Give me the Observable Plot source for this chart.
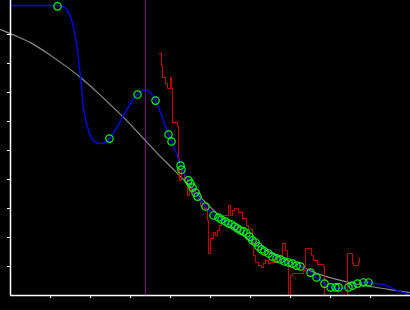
<!DOCTYPE html>
<html>
<head>
<meta charset="utf-8">
<script src="https://cdn.jsdelivr.net/npm/d3@7"></script>
<script src="https://cdn.jsdelivr.net/npm/@observablehq/plot@0.6"></script>
<style>
  html, body { margin: 0; padding: 0; background: #000; }
</style>
</head>
<body>
<div id="chart"></div>
<script>
// Tick positions
const xTicks = [1, 2, 3, 4, 5, 6, 7, 8, 9];
const yTicks = [1, 2, 3, 4, 5, 6, 7, 8, 9];
const markerX = 3.375;

// Gray smooth curve
const grayX = [-0.25, 0, 0.5, 1.0, 1.75, 2.25, 2.825, 3.375, 3.75, 4.0, 4.325, 4.825, 5.325, 5.75, 6.175, 6.75, 7.25, 7.75, 8.25, 9.0, 10];
const grayY = [9.17, 9.03, 8.72, 8.28, 7.52, 6.90, 6.14, 5.34, 4.79, 4.45, 4.0, 3.28, 2.62, 2.14, 1.72, 1.31, 1.0, 0.72, 0.52, 0.31, 0.10];

// Blue fitted curve
const blueX = [0, 1.175, 1.3, 1.425, 1.55, 1.675, 1.75, 1.825, 1.95, 2.075, 2.25, 2.375, 2.475, 2.675, 2.825, 3.0, 3.175, 3.3, 3.375, 3.475, 3.625, 3.75, 3.95, 4.025, 4.15, 4.25, 4.45, 4.625, 4.875, 5.075, 5.375, 5.75, 6.125, 6.45, 6.75, 7.05, 7.25, 7.5, 7.65, 7.85, 8.0, 8.2, 8.45, 8.675, 8.95, 9.125, 9.325, 9.5, 9.675, 9.875, 10];
const blueY = [10.0, 10.0, 9.97, 9.83, 9.38, 8.45, 7.52, 6.48, 5.69, 5.34, 5.24, 5.28, 5.41, 5.83, 6.21, 6.62, 6.93, 7.07, 7.10, 7.03, 6.72, 6.31, 5.55, 5.31, 4.90, 4.48, 3.97, 3.55, 3.07, 2.76, 2.55, 2.24, 1.83, 1.45, 1.24, 1.10, 1.0, 0.79, 0.62, 0.41, 0.28, 0.24, 0.28, 0.41, 0.45, 0.41, 0.38, 0.28, 0.17, 0.07, 0];

// Green observation circles
const ptX = [1.175, 2.475, 3.175, 3.625, 3.95, 4.025, 4.25, 4.275, 4.45, 4.5, 4.55, 4.625, 4.675, 4.875, 5.075, 5.2, 5.275, 5.375, 5.45, 5.525, 5.6, 5.675, 5.75, 5.825, 5.9, 5.975, 6.05, 6.125, 6.2, 6.275, 6.35, 6.45, 6.55, 6.65, 6.75, 6.85, 6.95, 7.05, 7.15, 7.25, 7.5, 7.65, 7.85, 8.0, 8.125, 8.2, 8.45, 8.55, 8.675, 8.825, 8.95];
const ptY = [9.97, 5.41, 6.93, 6.72, 5.55, 5.31, 4.48, 4.34, 3.97, 3.86, 3.72, 3.55, 3.41, 3.07, 2.76, 2.69, 2.62, 2.55, 2.48, 2.45, 2.38, 2.31, 2.24, 2.21, 2.14, 2.03, 1.90, 1.83, 1.69, 1.59, 1.52, 1.45, 1.34, 1.28, 1.24, 1.17, 1.14, 1.10, 1.03, 1.0, 0.79, 0.62, 0.41, 0.28, 0.28, 0.28, 0.28, 0.34, 0.41, 0.45, 0.45];

// Red noisy step series
const redX = [3.725, 3.775, 3.8, 3.875, 3.925, 4.0, 4.025, 4.05, 4.175, 4.2, 4.225, 4.275, 4.35, 4.425, 4.475, 4.525, 4.575, 4.65, 4.75, 4.8, 4.85, 4.925, 4.95, 5.0, 5.075, 5.125, 5.175, 5.225, 5.275, 5.325, 5.45, 5.5, 5.55, 5.6, 5.7, 5.8, 5.9, 5.95, 6.05, 6.075, 6.125, 6.2, 6.275, 6.325, 6.375, 6.45, 6.5, 6.625, 6.75, 6.8, 6.875, 6.925, 6.95, 7.0, 7.05, 7.325, 7.375, 7.525, 7.575, 7.675, 7.825, 7.85, 8.425, 8.55, 8.575, 8.7, 8.725];
const redY = [8.34, 7.93, 7.52, 7.31, 7.14, 7.52, 7.14, 5.97, 5.83, 4.72, 3.97, 4.31, 4.03, 3.45, 3.69, 3.62, 3.55, 3.45, 3.10, 3.17, 3.0, 2.59, 1.45, 1.97, 2.17, 2.07, 2.24, 2.41, 2.66, 2.76, 3.10, 2.76, 2.93, 3.0, 2.86, 2.66, 2.41, 2.28, 1.90, 1.38, 1.14, 1.03, 0.97, 1.10, 1.21, 1.10, 1.14, 1.28, 1.38, 1.79, 1.55, 1.21, 0, 0.69, 0.76, 0.86, 1.62, 1.38, 1.21, 1.07, 1.0, 0, 1.45, 1.10, 1.03, 1.14, 1.28];

const gray = grayX.map((x, i) => ({x, y: grayY[i]}));
const blue = blueX.map((x, i) => ({x, y: blueY[i]}));
const pts = ptX.map((x, i) => ({x, y: ptY[i]}));
const red = redX.map((x, i) => ({x, y: redY[i]}));

const chart = Plot.plot({
  width: 410,
  height: 310,
  marginLeft: 10,
  marginRight: 0,
  marginTop: 0,
  marginBottom: 15,
  style: {background: "#000", color: "#fff"},
  x: {domain: [0, 10]},
  y: {domain: [0, 295 / 29]},
  marks: [
    Plot.ruleX([markerX], {stroke: "#800080", strokeWidth: 1}),
    Plot.line(gray, {x: "x", y: "y", stroke: "#8c8c8c", strokeWidth: 1.2, curve: "catmull-rom"}),
    Plot.line(red, {x: "x", y: "y", stroke: "#c00000", strokeWidth: 1.1, curve: "step-after"}),
    Plot.line(blue, {x: "x", y: "y", stroke: "#0000ff", strokeWidth: 1.3, curve: "monotone-x"}),
    Plot.dot(pts, {x: "x", y: "y", r: 3.7, stroke: "#00ff00", strokeWidth: 1.2, fill: "none"}),
    Plot.ruleX([0], {stroke: "#fff", strokeWidth: 1.5}),
    Plot.ruleY([0], {stroke: "#fff", strokeWidth: 1.5}),
    Plot.axisX({ticks: xTicks, tickSize: 3, tickFormat: () => "", label: null, stroke: "#fff"}),
    Plot.axisY({ticks: yTicks, tickSize: 3, tickFormat: () => "", label: null, stroke: "#fff"})
  ]
});
document.getElementById("chart").appendChild(chart);
</script>
</body>
</html>
